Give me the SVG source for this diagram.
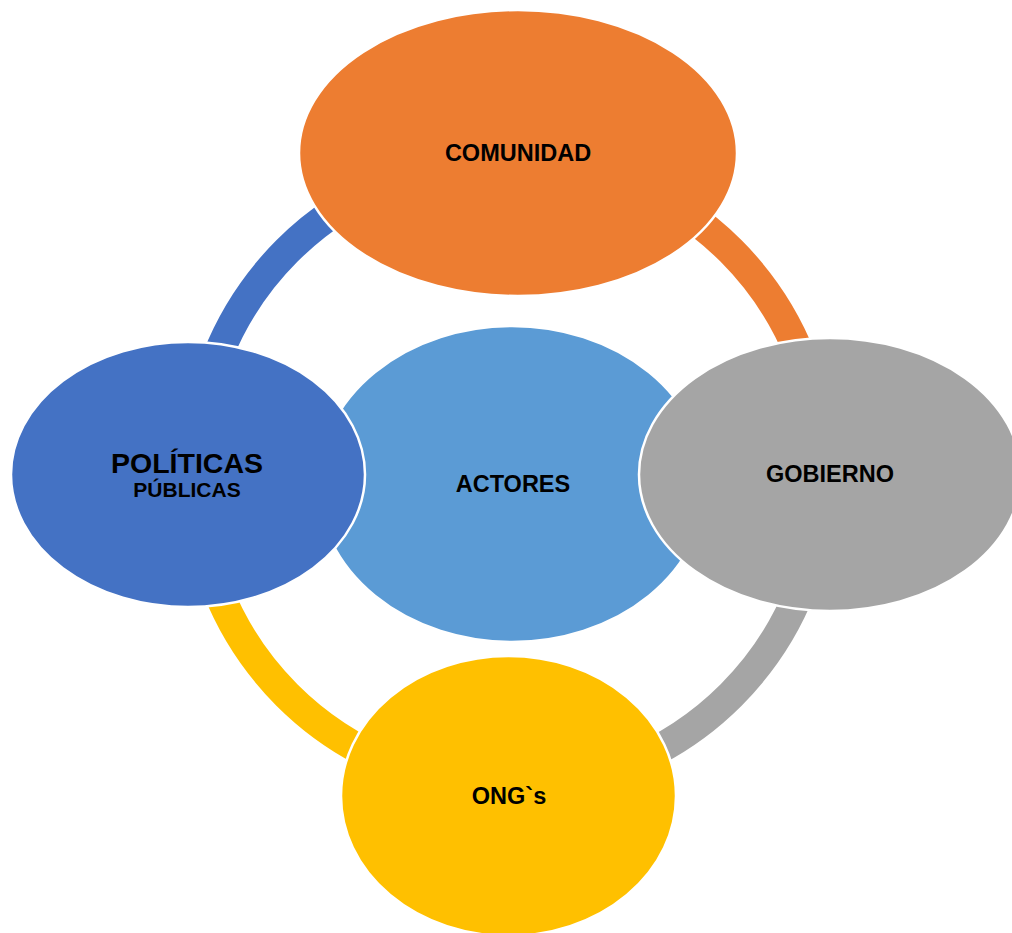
<svg xmlns="http://www.w3.org/2000/svg" width="1012" height="933" viewBox="0 0 1012 933">
  <style>
    .arc { fill: none; stroke-width: 30; stroke-linecap: butt; }
    .node { stroke: #FFFFFF; stroke-width: 2.5; }
    .lbl { font-family: "Liberation Sans", Arial, sans-serif; font-weight: bold; fill: #000000; text-anchor: middle; }
  </style>
  <rect x="0" y="0" width="1012" height="933" fill="#FFFFFF"/>
  <g id="connectors">
    <path class="arc" stroke="#4472C4" d="M 195 473 A 314 314 0 0 1 509 159"/>
    <path class="arc" stroke="#ED7D31" d="M 509 159 A 314 314 0 0 1 823 473"/>
    <path class="arc" stroke="#A5A5A5" d="M 823 473 A 314 314 0 0 1 509 787"/>
    <path class="arc" stroke="#FFC000" d="M 509 787 A 314 314 0 0 1 195 473"/>
  </g>
  <g id="actores">
    <ellipse class="node" cx="512" cy="484" rx="194" ry="158" fill="#5B9BD5"/>
    <text class="lbl" x="513" y="492" font-size="23.5">ACTORES</text>
  </g>
  <g id="comunidad">
    <ellipse class="node" cx="518" cy="153" rx="219" ry="143" fill="#ED7D31"/>
    <text class="lbl" x="518" y="161" font-size="23.5">COMUNIDAD</text>
  </g>
  <g id="ongs">
    <ellipse class="node" cx="508.5" cy="796" rx="167.5" ry="140" fill="#FFC000"/>
    <text class="lbl" x="509" y="804" font-size="23.5">ONG`s</text>
  </g>
  <g id="politicas">
    <ellipse class="node" cx="188" cy="474.5" rx="177" ry="132.5" fill="#4472C4"/>
    <text class="lbl" x="187" y="473" font-size="28.5">POLÍTICAS</text>
    <text class="lbl" x="187" y="497" font-size="21">PÚBLICAS</text>
  </g>
  <g id="gobierno">
    <ellipse class="node" cx="830" cy="474.5" rx="191" ry="136.5" fill="#A5A5A5"/>
    <text class="lbl" x="830" y="482" font-size="23.5">GOBIERNO</text>
  </g>
</svg>
